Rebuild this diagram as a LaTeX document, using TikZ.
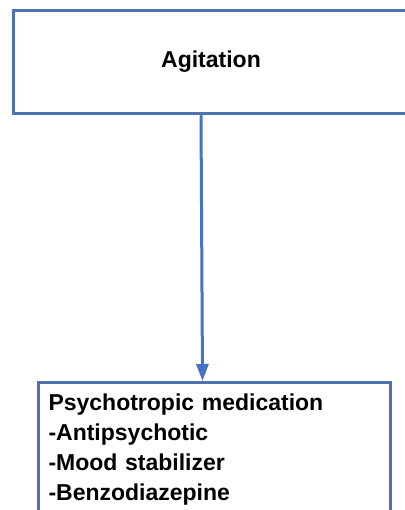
\documentclass[tikz,border=0pt]{standalone}
\usepackage{fontspec}
\setmainfont{Liberation Sans}
\usetikzlibrary{arrows.meta}
\definecolor{boxblue}{HTML}{4F72B0}
\definecolor{arrowblue}{HTML}{4472C4}
\begin{document}
\begin{tikzpicture}[x=1pt,y=-1pt]
\tikzstyle{every node}+=[font=\fontsize{23}{30}\selectfont\bfseries]
\tikzstyle{box}=[draw=boxblue, line width=3pt, fill=white]
\tikzstyle{flow}=[arrowblue, line width=3pt, -{Triangle[length=17pt,width=12pt]}]
\useasboundingbox (0,0) rectangle (404,510);
\node [box, minimum width=396pt, minimum height=103.5pt] (agit) at (211,62) {Agitation};
\node [box, anchor=north west, align=left, text width=332pt, inner xsep=10pt, inner ysep=11pt] (meds) at (37,381)
  {Psychotropic medication\\-Antipsychotic\\-Mood stabilizer\\-Benzodiazepine};
\draw [flow] ([xshift=-10pt]agit.south) -- ([xshift=-12pt]meds.north);
\end{tikzpicture}
\end{document}
